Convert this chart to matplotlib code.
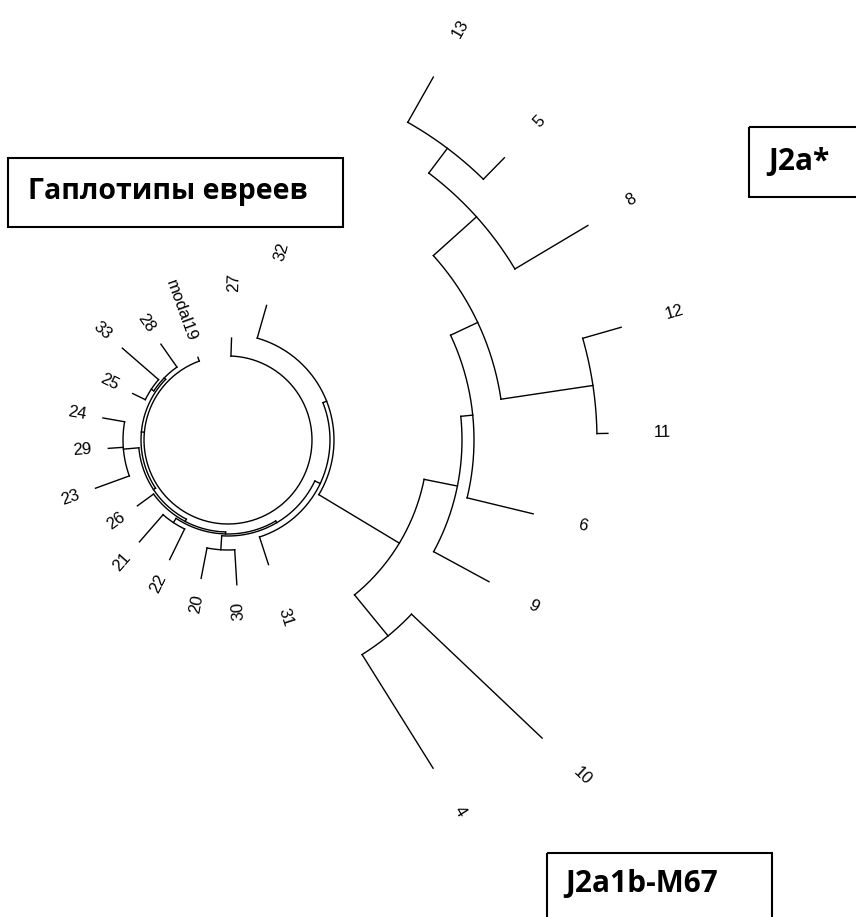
import numpy as np
import matplotlib.pyplot as plt
from matplotlib.patches import Rectangle

# circular tree, centre in pixel coords; angles in degrees (ccw), radii in px
centre = (228, 440)

leaf_labels = ['modal19', '28', '33', '25', '24', '29', '23', '26', '21', '22', '20', '30', '31',
               '4', '10', '9', '6', '11', '12', '8', '5', '13', '32', '27']
leaf_angle = [110, 125, 139, 154, 170, 184, 200, 216, 229, 244, 259, 273.5, 288,
              302, 316.5, 331.5, 346.4, 361, 376, 390.8, 405.6, 420.5, 434, 448]
leaf_radius = [88, 117, 140, 106, 127, 120, 141, 112, 135, 133, 141, 145, 131,
               387, 433, 297, 314, 380, 409, 419, 395, 417, 140, 102]

# internal nodes
node_names = ['root', 'N1', 'A', 'B', 'N2', 'D', 'N3', 'N4', 'H', 'S', 'G', 'R', 'Q',
              'V', 'T', 'W', 'X', 'K', 'L', 'M', 'N']
node_radius = [84, 87, 89, 92, 89.5, 105, 92, 94, 99, 96, 110, 102, 106,
               200, 253, 234, 246, 276, 369, 334, 365]
node_children = [
    ['modal19', 'N1', '27'],
    ['A', 'N2'],
    ['28', 'B'],
    ['33', '25'],
    ['D', 'N3'],
    ['24', '29', '23'],
    ['26', 'N4'],
    ['H', 'S'],
    ['21', '22'],
    ['G', 'R'],
    ['20', '30'],
    ['31', 'Q'],
    ['V', '32'],
    ['T', 'W'],
    ['4', '10'],
    ['9', 'X'],
    ['6', 'K'],
    ['L', 'M'],
    ['11', '12'],
    ['8', 'N'],
    ['5', '13'],
]

box_texts = ['Гаплотипы евреев', 'J2a*', 'J2a1b-M67']


def xy(ang, r):
    a = np.radians(ang)
    return centre[0] + r * np.cos(a), centre[1] - r * np.sin(a)


radius = dict(zip(leaf_labels, leaf_radius))
radius.update(zip(node_names, node_radius))
angle = dict(zip(leaf_labels, leaf_angle))
children = dict(zip(node_names, node_children))
parent = {c: p for p, cs in children.items() for c in cs}


def node_angle(n):
    if n not in angle:
        cs = children[n]
        angle[n] = (node_angle(cs[0]) + node_angle(cs[-1])) / 2
    return angle[n]


for n in node_names:
    node_angle(n)

fig = plt.figure(figsize=(8.56, 9.17), dpi=100)
ax = fig.add_axes([0, 0, 1, 1])
ax.set_xlim(0, 856)
ax.set_ylim(917, 0)
ax.axis('off')

lw = 1.0
# arcs at each internal node
for n in node_names:
    cs = children[n]
    a = np.linspace(angle[cs[0]], angle[cs[-1]], 200)
    x, y = xy(a, radius[n])
    ax.plot(x, y, color='black', lw=lw)

# radial branches
for n, p in parent.items():
    x0, y0 = xy(angle[n], radius[p])
    x1, y1 = xy(angle[n], radius[n])
    ax.plot([x0, x1], [y0, y1], color='black', lw=lw)

# leaf labels
for lab in leaf_labels:
    a = angle[lab] % 360
    right = (a - 275) % 360 < 180
    if right:
        rot = a if a <= 95 else a - 360
        x, y = xy(a, radius[lab] + 46)
        ha = 'left'
    else:
        rot = a - 180
        x, y = xy(a, radius[lab] + 17)
        ha = 'right'
    ax.text(x, y, lab, rotation=rot, rotation_mode='anchor', ha=ha, va='center',
            fontsize=12, family='Liberation Sans', color='black')

# group boxes
boxes = [(8, 158, 335, 69, 28, 191, 20.5),
         (749, 127, 115, 70, 768, 162, 21.5),
         (547, 853, 225, 80, 565, 884, 21.5)]
for (bx, by, bw, bh, tx, ty, fs), t in zip(boxes, box_texts):
    ax.add_patch(Rectangle((bx, by), bw, bh, fill=False, ec='black', lw=1.5))
    ax.text(tx, ty, t, ha='left', va='center', fontsize=fs, fontweight='bold',
            family='Open Sans', color='black')

fig.savefig('out.png', dpi=100)
